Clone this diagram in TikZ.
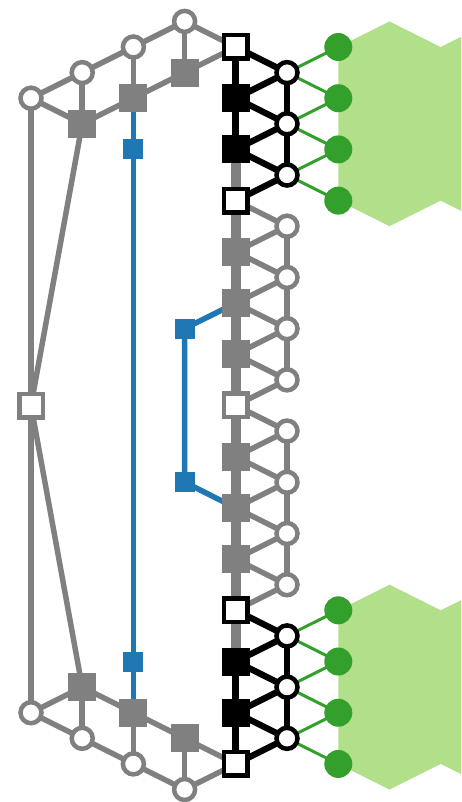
\documentclass[tikz,border=0pt]{standalone}
\usetikzlibrary{calc}
\definecolor{gr}{HTML}{808080}
\definecolor{bl}{HTML}{1F78B4}
\definecolor{dg}{HTML}{33A02C}
\definecolor{lg}{HTML}{B2DF8A}
\pgfdeclarelayer{back}
\pgfdeclarelayer{edges}
\pgfsetlayers{back,edges,main}
\begin{document}
\begin{tikzpicture}[x=1pt,y=-1pt,
  circ/.style={circle,fill=white,line width=4.5pt,minimum size=21pt,inner sep=0pt},
  gcirc/.style={circ,draw=gr},
  bcirc/.style={circ,draw=black},
  sq/.style={rectangle,inner sep=0pt,minimum size=28pt},
  gsq/.style={sq,fill=gr},
  bsq/.style={sq,fill=black},
  wsq/.style={rectangle,inner sep=0pt,minimum size=23.5pt,fill=white,line width=4.5pt,draw=black},
  wgsq/.style={wsq,draw=gr},
  bluesq/.style={rectangle,inner sep=0pt,minimum size=20pt,fill=bl},
  grn/.style={circle,inner sep=0pt,minimum size=28pt,fill=dg},
  ge/.style={draw=gr,line width=5.5pt,line join=round},
  be/.style={draw=black,line width=6.3pt,line join=round},
  bluee/.style={draw=bl,line width=5.5pt,line join=round},
  gthick/.style={draw=gr,line width=10pt},
  greene/.style={draw=dg,line width=3pt}
]
\useasboundingbox (0,0) rectangle (461,802);

% centre column
\foreach \i/\s in {1/wsq,2/bsq,3/bsq,4/wsq,5/gsq,6/gsq,7/gsq,8/wgsq,9/gsq,10/gsq,11/gsq,12/wsq,13/bsq,14/bsq,15/wsq}
  \node[\s] (c\i) at (235.8,{47+51.21*(\i-1)}) {};
% right circles
\foreach \i/\s in {1/bcirc,2/bcirc,3/bcirc,4/gcirc,5/gcirc,6/gcirc,7/gcirc,8/gcirc,9/gcirc,10/gcirc,11/gcirc,12/bcirc,13/bcirc,14/bcirc}
  \node[\s] (r\i) at (287,{47+51.21*(\i-0.5)}) {};
% green circles
\foreach \i/\j in {1/1,2/2,3/3,4/4,5/12,6/13,7/14,8/15}
  \node[grn] (g\i) at (338.3,{47+51.21*(\j-1)}) {};

% left top
\node[gcirc] (L1) at (31,98.2) {};
\node[gcirc] (L2) at (82.2,72.6) {};
\node[gcirc] (L3) at (133.4,47) {};
\node[gcirc] (L4) at (184.6,21.4) {};
\node[gsq] (S2) at (82.2,123.8) {};
\node[gsq] (S3) at (133.4,98.2) {};
\node[gsq] (S4) at (184.6,72.6) {};
% left bottom
\node[gcirc] (B1) at (31,712.7) {};
\node[gcirc] (B2) at (82.2,738.3) {};
\node[gcirc] (B3) at (133.4,763.9) {};
\node[gcirc] (B4) at (184.6,789.5) {};
\node[gsq] (T2) at (82.2,687.1) {};
\node[gsq] (T3) at (133.4,712.7) {};
\node[gsq] (T4) at (184.6,738.3) {};
% middle left
\node[wgsq] (M) at (31,405.5) {};
% blue
\node[bluesq] (bu1) at (133.4,149.4) {};
\node[bluesq] (bu2) at (133.4,661.5) {};
\node[bluesq] (bu3) at (184.6,328.6) {};
\node[bluesq] (bu4) at (184.6,482.2) {};

\begin{pgfonlayer}{back}
  \begin{scope}
    \clip (0,0) rectangle (461,802);
    \fill[lg] (g1.center) -- ++(51.2,-25.6) -- ++(51.2,25.6) -- ++(51.2,-25.6)
      -- ($(g4.center)+(153.6,25.6)$) -- ++(-51.2,-25.6) -- ++(-51.2,25.6) -- (g4.center) -- cycle;
    \fill[lg] (g5.center) -- ++(51.2,-25.6) -- ++(51.2,25.6) -- ++(51.2,-25.6)
      -- ($(g8.center)+(153.6,25.6)$) -- ++(-51.2,-25.6) -- ++(-51.2,25.6) -- (g8.center) -- cycle;
  \end{scope}
\end{pgfonlayer}

\begin{pgfonlayer}{edges}
  % green edges
  \foreach \a/\b in {g1/r1,g2/r1,g2/r2,g3/r2,g3/r3,g4/r3,g5/r12,g6/r12,g6/r13,g7/r13,g7/r14,g8/r14}
    \draw[greene] (\a.center) -- (\b.center);
  % centre spine
  \draw[gthick] (c3.center) -- (c13.center);
  \draw[be,line width=6.8pt] (c1.center) -- (c3.center);
  \draw[be,line width=6.8pt] (c13.center) -- (c15.center);
  % zigzag
  \foreach \i/\n/\e in {1/2/be,2/3/be,3/4/be,4/5/ge,5/6/ge,6/7/ge,7/8/ge,8/9/ge,9/10/ge,10/11/ge,11/12/ge,12/13/be,13/14/be,14/15/be}
    \draw[\e] (c\i.center) -- (r\i.center) -- (c\n.center);
  \draw[be] (r1.center) -- (r3.center);
  \draw[ge] (r4.center) -- (r7.center);
  \draw[ge] (r8.center) -- (r11.center);
  \draw[be] (r12.center) -- (r14.center);
  % left top ladder
  \draw[ge] (L1.center) -- (L2.center) -- (L3.center) -- (L4.center) -- (c1.center);
  \draw[ge] (L1.center) -- (S2.center) -- (S3.center) -- (S4.center) -- (c1.center);
  \draw[ge] (L2.center) -- (S2.center);
  \draw[ge] (L3.center) -- (S3.center);
  \draw[ge] (L4.center) -- (S4.center);
  % left bottom ladder
  \draw[ge] (B1.center) -- (B2.center) -- (B3.center) -- (B4.center) -- (c15.center);
  \draw[ge] (B1.center) -- (T2.center) -- (T3.center) -- (T4.center) -- (c15.center);
  \draw[ge] (B2.center) -- (T2.center);
  \draw[ge] (B3.center) -- (T3.center);
  \draw[ge] (B4.center) -- (T4.center);
  % long left lines
  \draw[ge] (L1.center) -- (M.center) -- (B1.center);
  \draw[ge] (S2.center) -- (M.center) -- (T2.center);
  % blue
  \draw[bluee] (S3.center) -- (bu1.center) -- (bu2.center) -- (T3.center);
  \draw[bluee] (c6.center) -- (bu3.center) -- (bu4.center) -- (c10.center);
\end{pgfonlayer}
\end{tikzpicture}
\end{document}
